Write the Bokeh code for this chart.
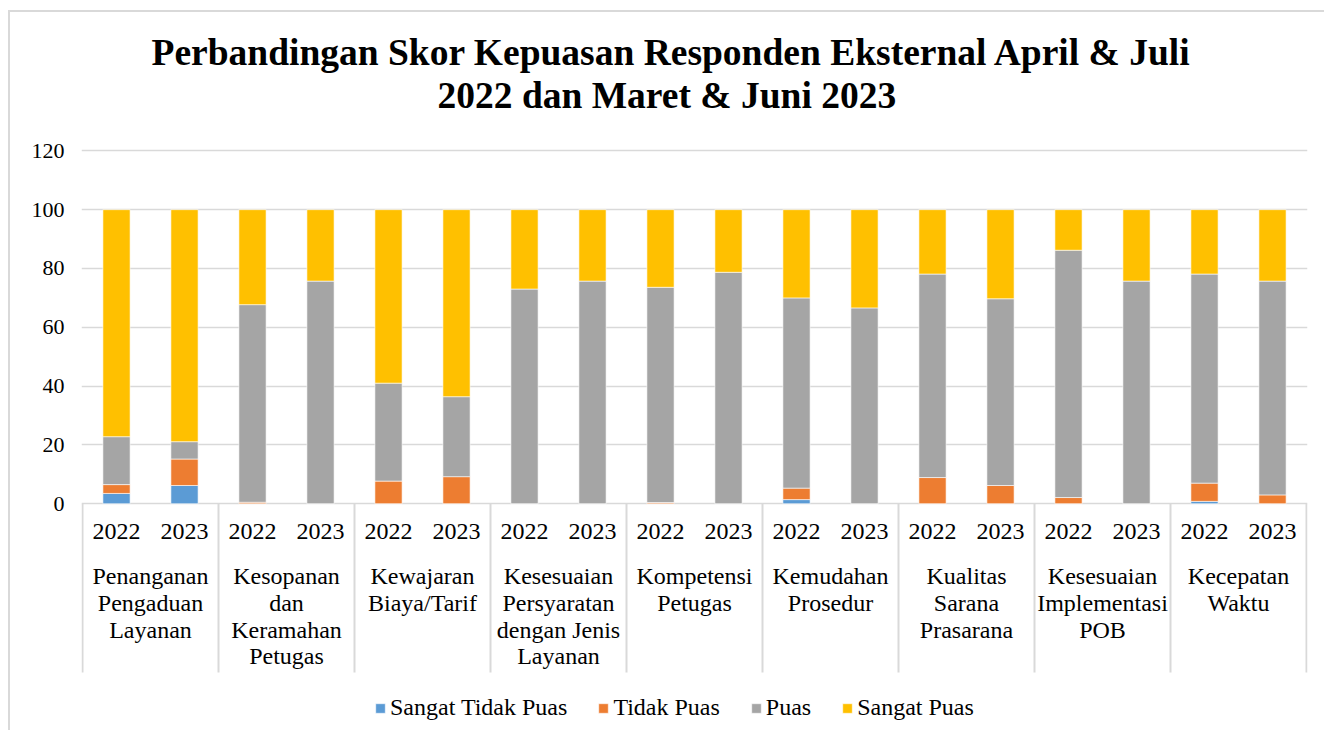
import numpy as np
from bokeh.plotting import figure
from bokeh.models import (ColumnDataSource, Range1d, FixedTicker, Legend, LegendItem, Title)
from bokeh.core.properties import value
from bokeh.embed import file_html
from bokeh.resources import INLINE

categories = ["Penanganan\nPengaduan\nLayanan", "Kesopanan\ndan\nKeramahan\nPetugas",
              "Kewajaran\nBiaya/Tarif", "Kesesuaian\nPersyaratan\ndengan Jenis\nLayanan",
              "Kompetensi\nPetugas", "Kemudahan\nProsedur", "Kualitas\nSarana\nPrasarana",
              "Kesesuaian\nImplementasi\nPOB", "Kecepatan\nWaktu"]
years = ["2022", "2023"]
series = ["Sangat Tidak Puas", "Tidak Puas", "Puas", "Sangat Puas"]
colors = ["#5B9BD5", "#ED7D31", "#A5A5A5", "#FFC000"]

# values ordered: category 1 (2022, 2023), category 2 (2022, 2023), ...
sangat_tidak_puas = [3.5, 6.2, 0, 0, 0, 0, 0, 0, 0, 0, 1.4, 0, 0, 0, 0, 0, 0.8, 0]
tidak_puas = [3.0, 9.0, 0.5, 0, 7.7, 9.2, 0, 0, 0.4, 0, 3.9, 0, 8.9, 6.2, 2.1, 0, 6.2, 3.0]
puas = [16.3, 5.9, 67.2, 75.7, 33.3, 27.2, 73.0, 75.7, 73.2, 78.7, 64.7, 66.6, 69.2, 63.5, 84.1, 75.7, 71.1, 72.7]
sangat_puas = [77.2, 78.9, 32.3, 24.3, 59.0, 63.6, 27.0, 24.3, 26.4, 21.3, 30.0, 33.4, 21.9, 30.3, 13.8, 24.3, 21.9, 24.3]
y_ticks = [0, 20, 40, 60, 80, 100, 120]

n_cat = len(categories)
n_yr = len(years)
xs = [g * n_yr + j + 0.5 for g in range(n_cat) for j in range(n_yr)]
yr_labels = [years[j] for g in range(n_cat) for j in range(n_yr)]

src = ColumnDataSource(dict(x=xs, stp=sangat_tidak_puas, tp=tidak_puas, p=puas, sp=sangat_puas))

FONT = "Liberation Serif"
GRID = "#d9d9d9"

p = figure(width=1316, height=720,
           x_range=Range1d(-0.0147, n_cat * n_yr + 0.0147),
           y_range=Range1d(-77.8, 131.0),
           output_backend="svg", toolbar_location=None, x_axis_location=None,
           min_border_left=71, min_border_right=19, min_border_top=106, min_border_bottom=0)
p.styles = {"margin-left": "8px", "margin-top": "10px",
            "border-left": "2px solid #d9d9d9", "border-top": "2px solid #d9d9d9"}
p.outline_line_color = None
p.xgrid.visible = False
p.ygrid.ticker = FixedTicker(ticks=y_ticks)
p.ygrid.grid_line_color = GRID
p.ygrid.grid_line_width = 1.5
p.yaxis.ticker = FixedTicker(ticks=y_ticks)
p.yaxis.axis_line_color = None
p.yaxis.major_tick_line_color = None
p.yaxis.minor_tick_line_color = None
p.yaxis.major_tick_out = 0
p.yaxis.major_label_standoff = 17
p.yaxis.major_label_text_font = FONT
p.yaxis.major_label_text_font_size = "22px"
p.yaxis.major_label_text_color = "black"

renderers = p.vbar_stack(["stp", "tp", "p", "sp"], x="x", width=0.4, source=src,
                         color=colors, line_color="white", line_width=0.6)

# separators of category axis
bounds = [g * n_yr for g in range(n_cat + 1)]
p.segment(x0=bounds, y0=[0] * len(bounds), x1=bounds, y1=[-57.4] * len(bounds),
          line_color=GRID, line_width=2)

p.text(x=xs, y=[-9.5] * len(xs), text=yr_labels, text_font=value(FONT), text_font_size="24px",
       text_align="center", text_baseline="middle", text_color="black")
cx = [g * n_yr + n_yr / 2 for g in range(n_cat)]
p.text(x=cx, y=[-20.2] * n_cat, text=categories, text_font=value(FONT), text_font_size="24px",
       text_align="center", text_baseline="top", text_color="black", text_line_height=1.03)

t2 = Title(text="2022 dan Maret & Juni 2023", align="left", offset=356,
           text_font=FONT, text_font_size="37.5px", text_font_style="bold", text_color="black",
           standoff=6)
t1 = Title(text="Perbandingan Skor Kepuasan Responden Eksternal April & Juli", align="left", offset=70,
           text_font=FONT, text_font_size="37.5px", text_font_style="bold", text_color="black",
           standoff=-6)
p.add_layout(t2, "above")
p.add_layout(t1, "above")

legend = Legend(items=[LegendItem(label=s, renderers=[r]) for s, r in zip(series, renderers)],
                orientation="horizontal", location=(293, 11),
                label_text_font=FONT, label_text_font_size="24px", label_text_color="black",
                glyph_width=12, glyph_height=12, label_standoff=4, spacing=30,
                border_line_color=None, background_fill_alpha=0, padding=0, margin=0)
p.add_layout(legend)

open("out.html", "w").write(file_html(p, INLINE))
